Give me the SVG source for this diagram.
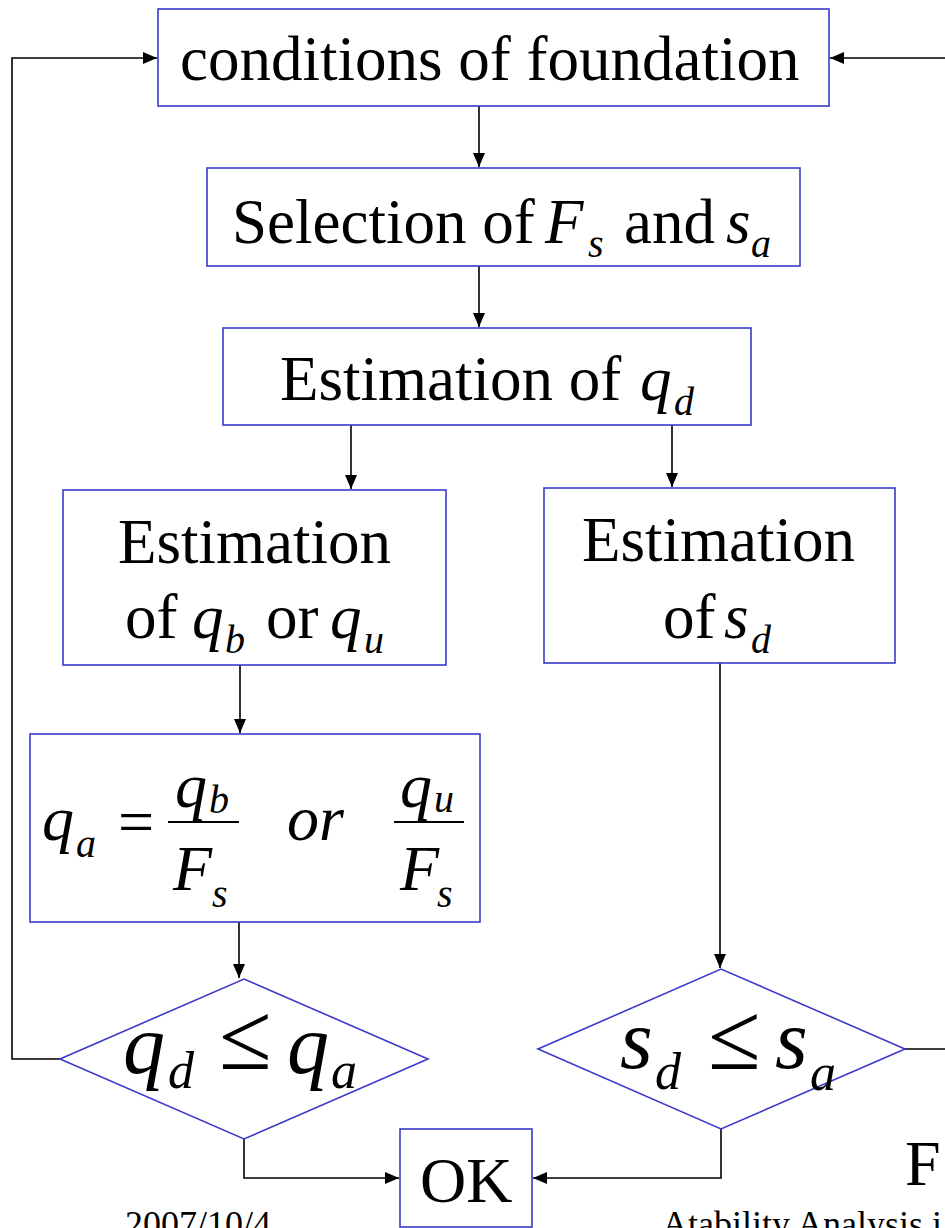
<svg xmlns="http://www.w3.org/2000/svg" width="945" height="1228" viewBox="0 0 945 1228">
<style>
.box{fill:#fff;stroke:#3a3acc;stroke-width:1.6}
.t{font-family:"Liberation Serif","Times New Roman",serif;font-size:63px;fill:#000}
.i{font-style:italic}
.sub{font-family:"Liberation Serif","Times New Roman",serif;font-size:40px;font-style:italic;fill:#000}
.big{font-family:"Liberation Serif","Times New Roman",serif;font-size:84px;font-style:italic;fill:#000}
.bsub{font-family:"Liberation Serif","Times New Roman",serif;font-size:52px;font-style:italic;fill:#000}
.le{font-family:"Liberation Serif","Times New Roman",serif;font-size:96px;fill:#000}
.c{fill:none;stroke:#000;stroke-width:1.6}
.foot{font-family:"Liberation Serif","Times New Roman",serif;font-size:36px;fill:#000}
</style>
<defs>
<marker id="ah" markerUnits="userSpaceOnUse" markerWidth="14" markerHeight="12" refX="14" refY="6" orient="auto">
<path d="M0,0 L14,6 L0,12 z" fill="#000"/>
</marker>
</defs>
<g id="connectors">
<path class="c" d="M479,106 V167" marker-end="url(#ah)"/>
<path class="c" d="M479,266 V327" marker-end="url(#ah)"/>
<path class="c" d="M351,425 V489" marker-end="url(#ah)"/>
<path class="c" d="M672,425 V487" marker-end="url(#ah)"/>
<path class="c" d="M240,665 V733" marker-end="url(#ah)"/>
<path class="c" d="M239,922 V978" marker-end="url(#ah)"/>
<path class="c" d="M720,663 V968" marker-end="url(#ah)"/>
<path class="c" d="M60,1059 H12 V58 H157" marker-end="url(#ah)"/>
<path class="c" d="M905,1049 H960 V58 H830" marker-end="url(#ah)"/>
<path class="c" d="M244,1139 V1178 H399" marker-end="url(#ah)"/>
<path class="c" d="M721,1129 V1178 H533" marker-end="url(#ah)"/>
</g>
<g id="n1">
<rect class="box" x="158" y="9" width="671" height="97"/>
<text class="t" x="180" y="80">conditions of foundation</text>
</g>
<g id="n2">
<rect class="box" x="207" y="168" width="593" height="98"/>
<text class="t" x="232" y="243">Selection of</text>
<text class="t i" x="545" y="243">F</text>
<text class="sub" x="588" y="257">s</text>
<text class="t" x="624" y="243">and</text>
<text class="t i" x="726" y="243">s</text>
<text class="sub" x="751" y="257">a</text>
</g>
<g id="n3">
<rect class="box" x="223" y="328" width="528" height="97"/>
<text class="t" x="280" y="400">Estimation of</text>
<text class="t i" x="640" y="400">q</text>
<text class="sub" x="674" y="415">d</text>
</g>
<g id="n4">
<rect class="box" x="63" y="490" width="383" height="175"/>
<text class="t" x="118" y="563">Estimation</text>
<text class="t" x="125" y="638">of</text>
<text class="t i" x="192" y="638">q</text>
<text class="sub" x="225" y="653">b</text>
<text class="t" x="266" y="638">or</text>
<text class="t i" x="330" y="638">q</text>
<text class="sub" x="364" y="653">u</text>
</g>
<g id="n5">
<rect class="box" x="544" y="488" width="351" height="175"/>
<text class="t" x="582" y="561">Estimation</text>
<text class="t" x="663" y="638">of</text>
<text class="t i" x="724" y="638">s</text>
<text class="sub" x="751" y="653">d</text>
</g>
<g id="n6">
<rect class="box" x="30" y="734" width="450" height="188"/>
<text class="t i" x="42" y="840" style="font-size:64px">q</text>
<text class="sub" x="76" y="857">a</text>
<text class="t" x="118" y="843" style="font-size:64px">=</text>
<text class="t i" x="175" y="807" style="font-size:64px">q</text>
<text class="sub" x="209" y="813">b</text>
<line x1="168" y1="822" x2="239" y2="822" stroke="#000" stroke-width="2.2"/>
<text class="t i" x="173" y="890" style="font-size:64px">F</text>
<text class="sub" x="212" y="907">s</text>
<text class="t i" x="287" y="840" style="font-size:64px">or</text>
<text class="t i" x="400" y="807" style="font-size:64px">q</text>
<text class="sub" x="434" y="812">u</text>
<line x1="394" y1="822" x2="464" y2="822" stroke="#000" stroke-width="2.2"/>
<text class="t i" x="400" y="890" style="font-size:64px">F</text>
<text class="sub" x="437" y="907">s</text>
</g>
<g id="n7">
<polygon class="box" points="60,1059 244,979 428,1059 244,1139"/>
<text class="big" x="123" y="1073">q</text>
<text class="bsub" x="168" y="1088">d</text>
<text class="le" x="219" y="1069">≤</text>
<text class="big" x="287" y="1073">q</text>
<text class="bsub" x="331" y="1088">a</text>
</g>
<g id="n8">
<polygon class="box" points="538,1049 721,969 905,1049 721,1129" style="fill:none"/>
<text class="big" x="620" y="1068">s</text>
<text class="bsub" x="655" y="1089">d</text>
<text class="le" x="708" y="1069">≤</text>
<text class="big" x="775" y="1068">s</text>
<text class="bsub" x="810" y="1090">a</text>
</g>
<g id="n9">
<rect class="box" x="400" y="1129" width="132" height="98"/>
<text class="t" x="420" y="1202" style="font-size:64px">OK</text>
</g>
<text class="t" x="905" y="1185" style="font-size:64px">F</text>
<text class="foot" x="125" y="1236">2007/10/4</text>
<text class="foot" x="662" y="1236">Atability Analysis i</text>
</svg>
